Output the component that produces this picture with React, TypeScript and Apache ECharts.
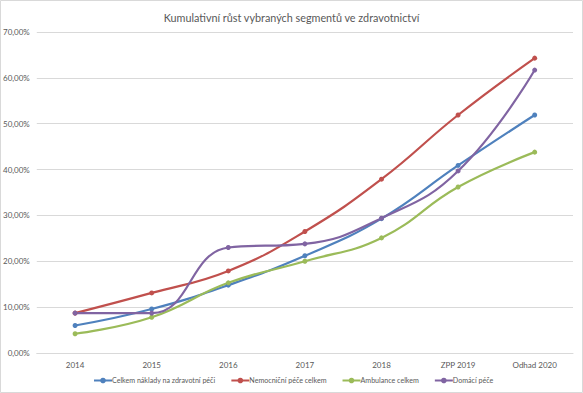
import React, { useEffect, useRef } from "react";
import * as echarts from "echarts";

const categories = ["2014", "2015", "2016", "2017", "2018", "ZPP 2019", "Odhad 2020"];
const celkem = [6.0, 9.6, 14.8, 21.2, 29.3, 40.9, 51.9];
const nemocnicni = [8.7, 13.1, 17.9, 26.5, 37.9, 51.9, 64.3];
const ambulance = [4.2, 7.8, 15.3, 20.0, 25.1, 36.2, 43.8];
const domaci = [8.7, 8.7, 23.0, 23.8, 29.4, 39.7, 61.7];

const seriesNames = [
  "Celkem náklady na zdravotní péči",
  "Nemocniční péče celkem",
  "Ambulance celkem",
  "Domácí péče",
];
const seriesColors = ["#4F81BD", "#C0504D", "#9BBB59", "#8064A2"];

const FONT = "Lato, sans-serif";

export default function App() {
  const ref = useRef<HTMLDivElement>(null);
  useEffect(() => {
    if (!ref.current) return;
    const chart = echarts.init(ref.current, undefined, { renderer: "svg" });
    const data = [celkem, nemocnicni, ambulance, domaci];
    chart.setOption({
      animation: false,
      backgroundColor: "#ffffff",
      textStyle: { fontFamily: FONT },
      title: {
        text: "Kumulativní růst vybraných segmentů ve zdravotnictví",
        left: "center",
        top: 7,
        textStyle: { fontSize: 10.8, fontWeight: "normal", color: "#595959", fontFamily: FONT },
      },
      graphic: [
        {
          type: "rect",
          shape: { x: 0.5, y: 0.5, width: 582, height: 392 },
          style: { fill: "none", stroke: "#D9D9D9", lineWidth: 1 },
          silent: true,
        },
      ],
      legend: {
        bottom: 9,
        left: 93,
        padding: 0,
        itemWidth: 18,
        itemHeight: 7,
        itemGap: 15,
        textStyle: { fontSize: 7.1, color: "#595959", fontFamily: FONT, padding: [0, 0, 0, -5] },
        data: seriesNames,
      },
      grid: { left: 35, right: 10, top: 32, bottom: 40, containLabel: false },
      xAxis: {
        type: "category",
        data: categories,
        boundaryGap: true,
        axisLine: { show: true, lineStyle: { color: "#D9D9D9" } },
        axisTick: { show: false },
        axisLabel: { fontSize: 8, color: "#595959", fontFamily: FONT, margin: 8 },
      },
      yAxis: {
        type: "value",
        min: 0,
        max: 70,
        interval: 10,
        axisLine: { show: false },
        axisTick: { show: false },
        splitLine: { lineStyle: { color: "#D9D9D9" } },
        axisLabel: {
          fontSize: 8,
          color: "#595959",
          fontFamily: FONT,
          margin: 7,
          formatter: (v: number) => v.toFixed(2).replace(".", ",") + "%",
        },
      },
      series: seriesNames.map((name, i) => ({
        name,
        type: "line",
        data: data[i],
        smooth: 0.45,
        symbol: "circle",
        symbolSize: 5,
        itemStyle: { color: seriesColors[i] },
        lineStyle: { width: 2.2, color: seriesColors[i] },
      })),
    });
    return () => chart.dispose();
  }, []);
  return (
    <div
      ref={ref}
      style={{ position: "fixed", left: 0, top: 0, width: 583, height: 393 }}
    />
  );
}
